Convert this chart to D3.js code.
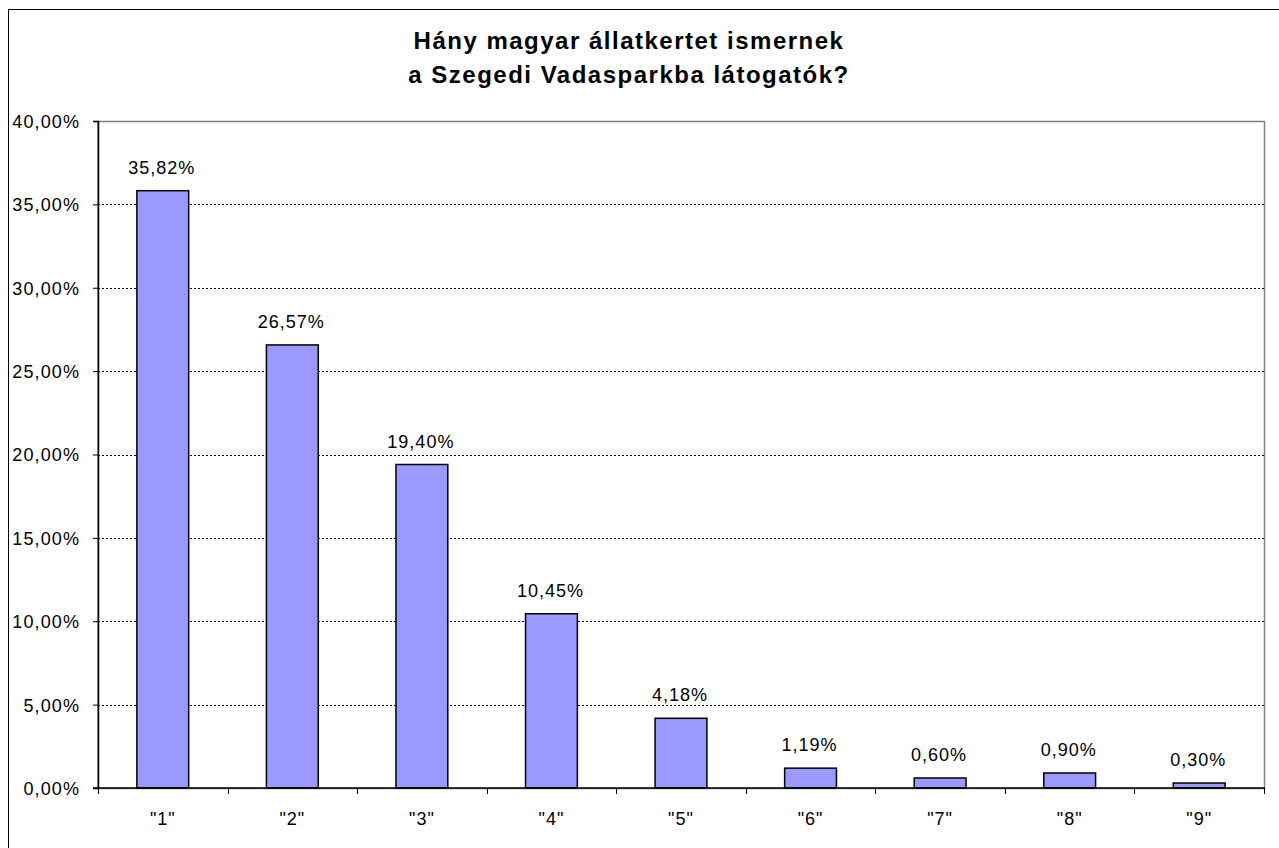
<!DOCTYPE html>
<html>
<head>
<meta charset="utf-8">
<script src="https://cdn.jsdelivr.net/npm/d3@7"></script>
<style>
  html, body { margin: 0; padding: 0; background: #fff; }
  svg { display: block; font-family: "Liberation Sans", Arial, sans-serif; }
</style>
</head>
<body>
<svg id="chart" width="1279" height="848"></svg>
<script>
const titleLines = ["Hány magyar állatkertet ismernek", "a Szegedi Vadasparkba látogatók?"];
const categories = ['"1"', '"2"', '"3"', '"4"', '"5"', '"6"', '"7"', '"8"', '"9"'];
const values = [35.82, 26.57, 19.40, 10.45, 4.18, 1.19, 0.60, 0.90, 0.30];
const yTicks = [0, 5, 10, 15, 20, 25, 30, 35, 40];

(function () {
const fmt = v => v.toFixed(2).replace(".", ",") + "%";

const svg = d3.select("#chart");
const W = 1279, H = 848;
const pL = 98, pR = 1264, pT = 121, pB = 788;

// outer border
svg.append("rect").attr("x", 8.5).attr("y", 9.5).attr("width", W + 10).attr("height", H + 10)
  .attr("fill", "#fff").attr("stroke", "#000").attr("stroke-width", 1);

// title
const title = svg.append("text").attr("text-anchor", "middle")
  .attr("font-weight", "bold").attr("font-size", 24).attr("letter-spacing", 1.5).attr("fill", "#000");
titleLines.forEach((t, i) => {
  title.append("tspan").attr("x", 629).attr("y", 49 + i * 34).text(t);
});

const x = d3.scaleBand().domain(categories).range([pL, pR]).paddingInner(0.6).paddingOuter(0.3);
const y = d3.scaleLinear().domain([0, 40]).range([pB, pT]);

// plot area border (gray)
svg.append("rect").attr("x", pL).attr("y", pT + 0.5).attr("width", pR - pL + 0.5).attr("height", pB - pT)
  .attr("fill", "none").attr("stroke", "#808080").attr("stroke-width", 1.5);

// gridlines
svg.append("g").selectAll("line").data(yTicks.filter(d => d > 0 && d < 40)).join("line")
  .attr("x1", pL).attr("x2", pR)
  .attr("y1", d => Math.round(y(d)) + 0.5).attr("y2", d => Math.round(y(d)) + 0.5)
  .attr("stroke", "#000").attr("stroke-width", 1).attr("stroke-dasharray", "2,2");

// y axis
const yAxis = d3.axisLeft(y).tickValues(yTicks).tickSize(5).tickPadding(13).tickFormat(fmt);
const gy = svg.append("g").attr("transform", `translate(${pL},0)`).call(yAxis);
gy.select(".domain").attr("stroke", "#000").attr("stroke-width", 1.5);
gy.selectAll(".tick line").attr("stroke", "#000");
gy.selectAll(".tick text").attr("font-size", 18).attr("letter-spacing", 1.1).attr("fill", "#000")
  .attr("font-family", '"Liberation Sans", Arial, sans-serif').attr("dy", "0.36em");

// bars
svg.append("g").selectAll("rect").data(values).join("rect")
  .attr("x", (d, i) => x(categories[i]))
  .attr("y", d => y(d))
  .attr("width", x.bandwidth())
  .attr("height", d => y(0) - y(d))
  .attr("fill", "#9999FF").attr("stroke", "#000").attr("stroke-width", 1.5);

// x axis
const xAxis = d3.axisBottom(x).tickSize(0).tickPadding(24);
const gx = svg.append("g").attr("transform", `translate(0,${pB})`).call(xAxis);
gx.select(".domain").remove();
gx.selectAll(".tick text").attr("font-size", 18).attr("letter-spacing", 1).attr("fill", "#000")
  .attr("font-family", '"Liberation Sans", Arial, sans-serif');
svg.append("line").attr("x1", pL - 5).attr("x2", pR + 1).attr("y1", pB).attr("y2", pB)
  .attr("stroke", "#000").attr("stroke-width", 1.5);
// category boundary ticks
const bounds = d3.range(categories.length + 1).map(i => pL + i * x.step());
svg.append("g").selectAll("line").data(bounds).join("line")
  .attr("x1", d => Math.round(d) + 0.5).attr("x2", d => Math.round(d) + 0.5)
  .attr("y1", pB).attr("y2", pB + 6)
  .attr("stroke", "#000").attr("stroke-width", 1);

// value labels
svg.append("g").selectAll("text").data(values).join("text")
  .attr("x", (d, i) => x(categories[i]) + x.bandwidth() / 2 - 1)
  .attr("y", d => y(d) - 17)
  .attr("text-anchor", "middle").attr("font-size", 18).attr("letter-spacing", 1).attr("fill", "#000")
  .text(fmt);
})();
</script>
</body>
</html>
